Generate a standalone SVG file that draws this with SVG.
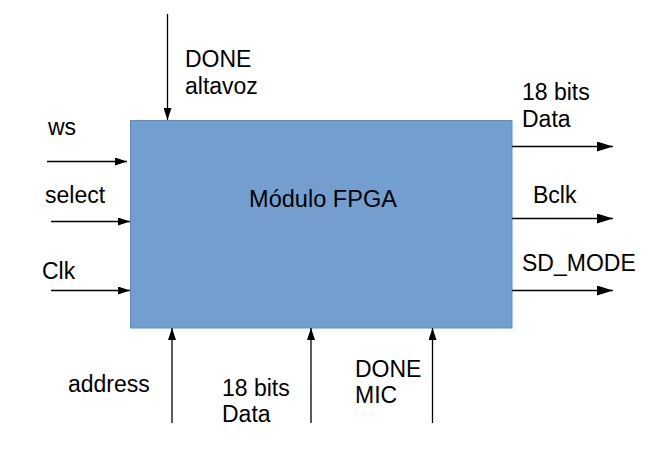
<svg xmlns="http://www.w3.org/2000/svg" width="649" height="471" viewBox="0 0 649 471">
<style>
text{font-family:"Liberation Sans",Arial,sans-serif;font-size:23px;fill:#000}
.c line{stroke:#000;stroke-width:1.3}
</style>
<defs>
<marker id="ah" viewBox="0 0 12 8" refX="12" refY="4" markerWidth="12" markerHeight="8" markerUnits="userSpaceOnUse" orient="auto">
<path d="M0,0L12,4L0,8Z" fill="#000"/>
</marker>
<marker id="ahl" viewBox="0 0 16 10" refX="16" refY="5" markerWidth="16" markerHeight="10" markerUnits="userSpaceOnUse" orient="auto">
<path d="M0,0L16,5L0,10Z" fill="#000"/>
</marker>
</defs>
<rect width="649" height="471" fill="#fff"/>
<g id="fpga">
<rect x="130.5" y="120.5" width="381.5" height="207.5" fill="#729fcf" stroke="#5f8bbd" stroke-width="1"/>
<text x="249" y="207" textLength="148" lengthAdjust="spacingAndGlyphs">Módulo FPGA</text>
</g>
<g class="c" id="connectors">
<line x1="167.5" y1="14" x2="167.5" y2="120" marker-end="url(#ah)"/>
<line x1="47" y1="161.5" x2="127" y2="161.5" marker-end="url(#ah)"/>
<line x1="51" y1="221.5" x2="130" y2="221.5" marker-end="url(#ah)"/>
<line x1="51" y1="290.5" x2="130" y2="290.5" marker-end="url(#ah)"/>
<line x1="512" y1="146.5" x2="613" y2="146.5" marker-end="url(#ahl)"/>
<line x1="512" y1="218.5" x2="613" y2="218.5" marker-end="url(#ahl)"/>
<line x1="512" y1="290.5" x2="613" y2="290.5" marker-end="url(#ahl)"/>
<line x1="172" y1="423" x2="172" y2="328" marker-end="url(#ah)"/>
<line x1="311" y1="423" x2="311" y2="328" marker-end="url(#ah)"/>
<line x1="432.5" y1="423" x2="432.5" y2="328" marker-end="url(#ah)"/>
</g>
<g id="labels">
<text x="185" y="67">DONE</text>
<text x="185" y="94">altavoz</text>
<text x="48" y="135">ws</text>
<text x="45" y="203">select</text>
<text x="42" y="279">Clk</text>
<text x="522" y="100">18 bits</text>
<text x="522" y="127">Data</text>
<text x="533" y="203">Bclk</text>
<text x="522" y="271">SD_MODE</text>
<text x="68" y="392">address</text>
<text x="222" y="396">18 bits</text>
<text x="222" y="422">Data</text>
<text x="355" y="377">DONE</text>
<text x="355" y="403">MIC</text>
</g>
</svg>
